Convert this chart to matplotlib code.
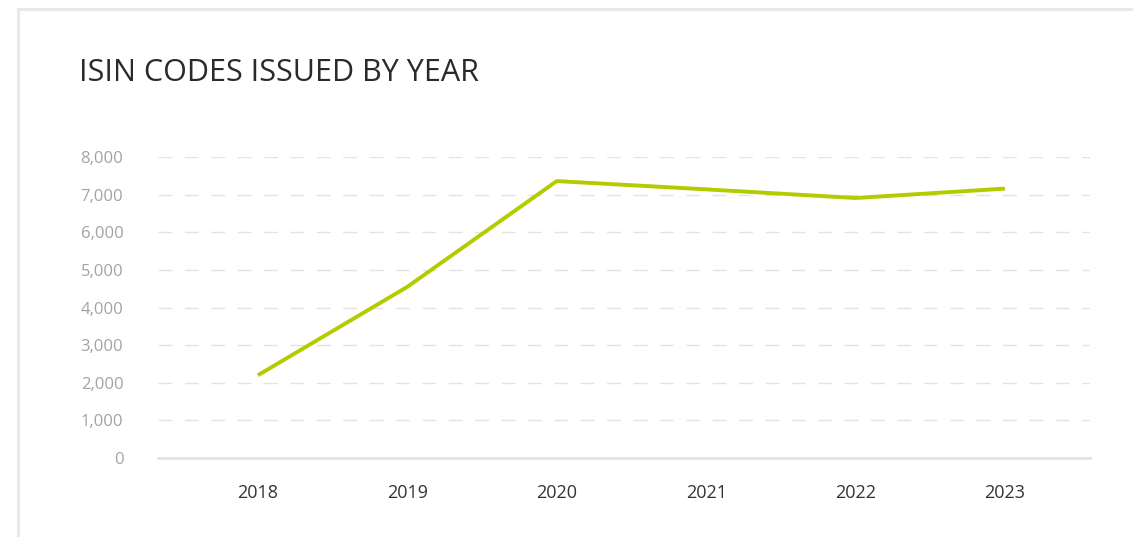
import matplotlib
matplotlib.use("Agg")
import matplotlib.pyplot as plt
from matplotlib.patches import Rectangle
from matplotlib.ticker import FuncFormatter

years = ["2018", "2019", "2020", "2021", "2022", "2023"]
codes_issued = [2200, 4550, 7360, 7140, 6910, 7160]
y_ticks = [0, 1000, 2000, 3000, 4000, 5000, 6000, 7000, 8000]

FONT = ["Open Sans", "DejaVu Sans"]

W, H = 1133, 537
fig = plt.figure(figsize=(W / 100, H / 100), dpi=100)
fig.patch.set_facecolor("white")

# outer card border
fig.patches.append(Rectangle((17.5 / W, -0.05), 1.2, (H - 8.5) / H + 0.05,
                             transform=fig.transFigure, fill=False,
                             edgecolor="#e6e8ea", linewidth=2.2))

fig.text(79 / W, 1 - 73 / H, "ISIN CODES ISSUED BY YEAR", fontsize=22,
         color="#2a2a2a", va="center", ha="left", family=FONT)

left, right, bottom, top = 158, 1090, 458, 157
ax = fig.add_axes([left / W, 1 - bottom / H, (right - left) / W, (bottom - top) / H])
ax.set_facecolor("none")

x = list(range(len(years)))
ax.plot(x, codes_issued, color="#b4cb00", linewidth=2.8, solid_capstyle="butt")

ax.set_xlim(-0.669, 5.569)
ax.set_ylim(0, 8000)
ax.set_yticks(y_ticks)
ax.yaxis.set_major_formatter(FuncFormatter(lambda v, p: f"{int(v):,}"))
ax.set_xticks(x)
ax.set_xticklabels(years)

for v in y_ticks[1:]:
    ax.axhline(v, color="#e3e3e3", linewidth=1.0, linestyle=(0, (10, 9)), zorder=0)

for s in ["top", "right", "left"]:
    ax.spines[s].set_visible(False)
ax.spines["bottom"].set_color("#e3e3e3")
ax.spines["bottom"].set_linewidth(2)

ax.tick_params(axis="y", length=0, pad=25, labelsize=12, labelcolor="#a3a3a3")
ax.tick_params(axis="x", length=0, pad=19, labelsize=13, labelcolor="#333333")
for lab in ax.get_yticklabels() + ax.get_xticklabels():
    lab.set_family(FONT)

fig.savefig("out.png", dpi=100)
